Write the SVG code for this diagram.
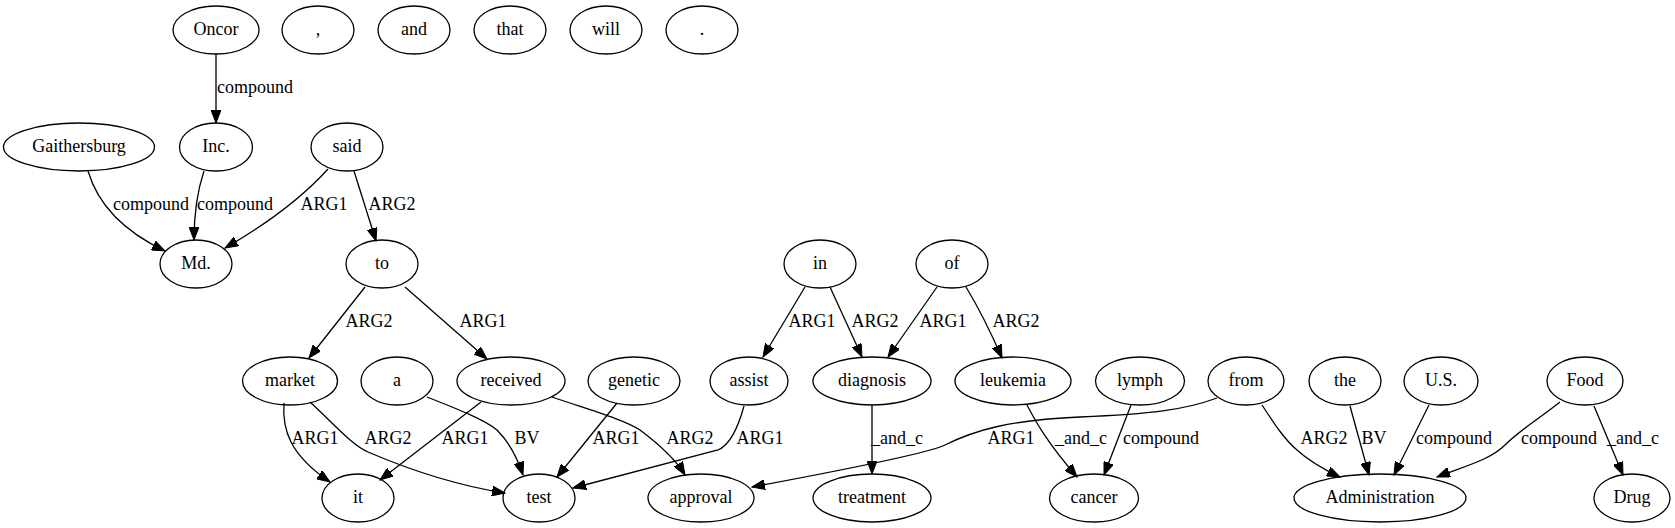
<svg xmlns="http://www.w3.org/2000/svg" width="1675" height="528" viewBox="0 0 1675 528" font-family="'Liberation Serif', 'DejaVu Serif', serif">
<style>
  .node ellipse { fill: none; stroke: #000; stroke-width: 1.3; }
  text { font-family: 'Liberation Serif', 'DejaVu Serif', serif; font-size: 18px; fill: #000; text-anchor: middle; }
  .edges path { fill: none; stroke: #000; stroke-width: 1.3; marker-end: url(#arr); }
</style>
<defs>
  <marker id="arr" markerUnits="userSpaceOnUse" markerWidth="14" markerHeight="10" refX="13" refY="5" orient="auto">
    <path d="M0,0 L13,5 L0,10 z" fill="#000" stroke="#000" stroke-width="1"/>
  </marker>
</defs>
<rect width="1675" height="528" fill="#fff"/>
<g class="edges" id="edges">
  <path d="M216,54 L216,123"/>
  <path d="M88,171 C98,205 125,232 165,251"/>
  <path d="M204,171 C197,192 194,212 194,240"/>
  <path d="M328,169 C300,200 265,225 225,248"/>
  <path d="M354,171 L376,241"/>
  <path d="M365,287 L309,358"/>
  <path d="M405,287 L487,359"/>
  <path d="M284,403 C282,430 290,455 330,482"/>
  <path d="M310,402 C335,425 352,445 368,452 C410,470 460,486 505,493"/>
  <path d="M427,397 C460,410 485,420 497,430 C510,443 518,460 523,475"/>
  <path d="M481,402 L380,480"/>
  <path d="M552,397 C590,410 625,420 640,430 C660,445 676,460 685,475"/>
  <path d="M617,403 L557,477"/>
  <path d="M744,406 C738,428 730,445 718,450 L573,488"/>
  <path d="M805,287 L763,357"/>
  <path d="M830,287 L862,357"/>
  <path d="M937,287 L888,357"/>
  <path d="M966,287 C980,310 992,335 1002,358"/>
  <path d="M872,405 L872,474"/>
  <path d="M1027,405 C1035,420 1045,440 1077,477"/>
  <path d="M1131,405 L1104,475"/>
  <path d="M1217,398 C1185,410 1150,414 1080,417 C1010,420 975,430 945,445 C925,455 800,478 752,487"/>
  <path d="M1262,405 C1275,425 1285,440 1297,450 C1310,462 1325,470 1340,477"/>
  <path d="M1350,406 L1369,475"/>
  <path d="M1429,405 L1394,475"/>
  <path d="M1560,402 C1540,418 1520,430 1505,445 C1490,460 1465,466 1437,477"/>
  <path d="M1594,406 L1623,475"/>
</g>
<g id="edge-labels">
  <text x="255" y="93">compound</text>
  <text x="151" y="210">compound</text>
  <text x="235" y="210">compound</text>
  <text x="324" y="210">ARG1</text>
  <text x="392" y="210">ARG2</text>
  <text x="369" y="327">ARG2</text>
  <text x="483" y="327">ARG1</text>
  <text x="812" y="327">ARG1</text>
  <text x="875" y="327">ARG2</text>
  <text x="943" y="327">ARG1</text>
  <text x="1016" y="327">ARG2</text>
  <text x="315" y="444">ARG1</text>
  <text x="388" y="444">ARG2</text>
  <text x="465" y="444">ARG1</text>
  <text x="527" y="444">BV</text>
  <text x="616" y="444">ARG1</text>
  <text x="690" y="444">ARG2</text>
  <text x="760" y="444">ARG1</text>
  <text x="897" y="444">_and_c</text>
  <text x="1011" y="444">ARG1</text>
  <text x="1081" y="444">_and_c</text>
  <text x="1161" y="444">compound</text>
  <text x="1324" y="444">ARG2</text>
  <text x="1374" y="444">BV</text>
  <text x="1454" y="444">compound</text>
  <text x="1559" y="444">compound</text>
  <text x="1633" y="444">_and_c</text>
</g>
<g class="node" id="n-oncor"><ellipse cx="216" cy="30" rx="43" ry="24"/><text x="216" y="35">Oncor</text></g>
<g class="node" id="n-comma"><ellipse cx="318" cy="30" rx="36" ry="24"/><text x="318" y="35">,</text></g>
<g class="node" id="n-and"><ellipse cx="414" cy="30" rx="36" ry="24"/><text x="414" y="35">and</text></g>
<g class="node" id="n-that"><ellipse cx="510" cy="30" rx="36" ry="24"/><text x="510" y="35">that</text></g>
<g class="node" id="n-will"><ellipse cx="606" cy="30" rx="36" ry="24"/><text x="606" y="35">will</text></g>
<g class="node" id="n-period"><ellipse cx="702" cy="30" rx="36" ry="24"/><text x="702" y="35">.</text></g>
<g class="node" id="n-gaithersburg"><ellipse cx="79" cy="147" rx="75.5" ry="24"/><text x="79" y="152">Gaithersburg</text></g>
<g class="node" id="n-inc"><ellipse cx="216" cy="147" rx="36.5" ry="24"/><text x="216" y="152">Inc.</text></g>
<g class="node" id="n-said"><ellipse cx="347" cy="147" rx="36" ry="24"/><text x="347" y="152">said</text></g>
<g class="node" id="n-md"><ellipse cx="196" cy="264" rx="36" ry="24"/><text x="196" y="269">Md.</text></g>
<g class="node" id="n-to"><ellipse cx="382" cy="264" rx="36" ry="24"/><text x="382" y="269">to</text></g>
<g class="node" id="n-in"><ellipse cx="820" cy="264" rx="36" ry="24"/><text x="820" y="269">in</text></g>
<g class="node" id="n-of"><ellipse cx="952" cy="264" rx="36" ry="24"/><text x="952" y="269">of</text></g>
<g class="node" id="n-market"><ellipse cx="290" cy="381" rx="47.5" ry="24"/><text x="290" y="386">market</text></g>
<g class="node" id="n-a"><ellipse cx="397" cy="381" rx="36" ry="24"/><text x="397" y="386">a</text></g>
<g class="node" id="n-received"><ellipse cx="511" cy="381" rx="54" ry="24"/><text x="511" y="386">received</text></g>
<g class="node" id="n-genetic"><ellipse cx="634" cy="381" rx="46" ry="24"/><text x="634" y="386">genetic</text></g>
<g class="node" id="n-assist"><ellipse cx="749" cy="381" rx="39" ry="24"/><text x="749" y="386">assist</text></g>
<g class="node" id="n-diagnosis"><ellipse cx="872" cy="381" rx="59" ry="24"/><text x="872" y="386">diagnosis</text></g>
<g class="node" id="n-leukemia"><ellipse cx="1013" cy="381" rx="58" ry="24"/><text x="1013" y="386">leukemia</text></g>
<g class="node" id="n-lymph"><ellipse cx="1140" cy="381" rx="44.5" ry="24"/><text x="1140" y="386">lymph</text></g>
<g class="node" id="n-from"><ellipse cx="1246" cy="381" rx="38" ry="24"/><text x="1246" y="386">from</text></g>
<g class="node" id="n-the"><ellipse cx="1345" cy="381" rx="36" ry="24"/><text x="1345" y="386">the</text></g>
<g class="node" id="n-us"><ellipse cx="1441" cy="381" rx="37" ry="24"/><text x="1441" y="386">U.S.</text></g>
<g class="node" id="n-food"><ellipse cx="1585" cy="381" rx="38" ry="24"/><text x="1585" y="386">Food</text></g>
<g class="node" id="n-it"><ellipse cx="358" cy="498" rx="36" ry="24"/><text x="358" y="503">it</text></g>
<g class="node" id="n-test"><ellipse cx="539" cy="498" rx="36" ry="24"/><text x="539" y="503">test</text></g>
<g class="node" id="n-approval"><ellipse cx="701" cy="498" rx="53" ry="24"/><text x="701" y="503">approval</text></g>
<g class="node" id="n-treatment"><ellipse cx="872" cy="498" rx="59" ry="24"/><text x="872" y="503">treatment</text></g>
<g class="node" id="n-cancer"><ellipse cx="1094" cy="498" rx="44.5" ry="24"/><text x="1094" y="503">cancer</text></g>
<g class="node" id="n-administration"><ellipse cx="1380" cy="498" rx="86" ry="24"/><text x="1380" y="503">Administration</text></g>
<g class="node" id="n-drug"><ellipse cx="1632" cy="498" rx="38" ry="24"/><text x="1632" y="503">Drug</text></g>
</svg>
